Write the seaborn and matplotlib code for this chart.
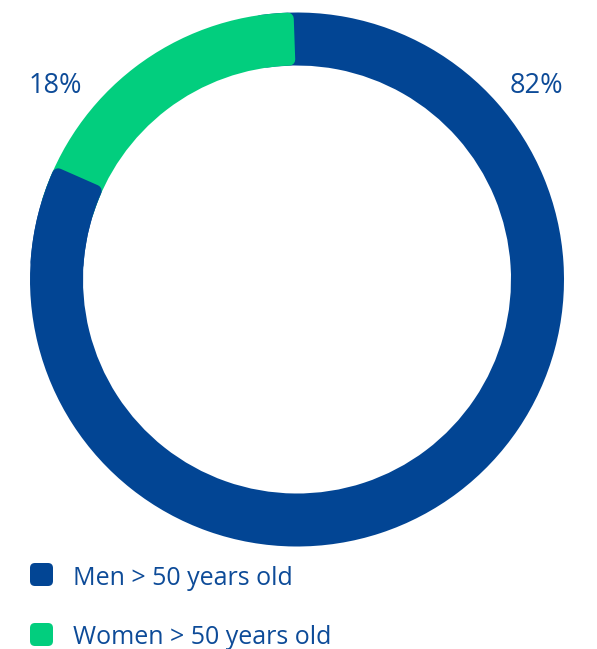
import matplotlib
matplotlib.use("Agg")
import matplotlib.pyplot as plt
from matplotlib.patches import Wedge, FancyBboxPatch
import numpy as np
import seaborn as sns

# Share of patients over 50 by sex
groups = ["Men > 50 years old", "Women > 50 years old"]
shares = [82, 18]
share_labels = ["82%", "18%"]
colors = ["#024594", "#02CE7E"]
text_color = "#0D4B98"

sns.set_theme(style="white")
plt.rcParams["font.family"] = ["Open Sans", "DejaVu Sans"]

W, H = 597, 649
fig = plt.figure(figsize=(W / 100, H / 100), dpi=100)
ax = fig.add_axes([0, 0, 1, 1])
ax.set_xlim(0, W)
ax.set_ylim(0, H)
ax.axis("off")

cx, cy = 297, H - 279.5
r_out, ring = 267, 53
corner = 6  # rounded-corner radius in px
lw_pt = 2 * corner * 72 / 100
r_mid = r_out - ring / 2
pad = np.degrees(corner / r_mid)

# clockwise from 12 o'clock: Men first, then Women
fracs = np.array(shares, dtype=float) / sum(shares)
men_span = fracs[0] * 360
men_start = 90 - men_span + 360          # ccw start angle of the men arc
women_t1, women_t2 = 90, 90 + fracs[1] * 360


def ring_piece(t1, t2, color, z):
    w = Wedge((cx, cy), r_out - corner, t1, t2, width=ring - 2 * corner,
              facecolor=color, edgecolor=color, linewidth=lw_pt,
              joinstyle="round", zorder=z)
    ax.add_patch(w)


m1 = men_start - 360 + pad  # visible end of men arc (lower left)
# men arc, tucked under the women arc at the top
ring_piece(m1, 450 + 8, colors[0], 1)
# women arc, tucked under the men arc at the lower left
ring_piece(women_t1 + pad + 0.6, women_t2 + 8, colors[1], 2)
# men arc start cap drawn over the women arc
ring_piece(m1, m1 + 20, colors[0], 3)

# percentage labels
ax.text(536, H - 93, share_labels[0], color=text_color, fontsize=19.5,
        ha="center", va="baseline")
ax.text(55, H - 93, share_labels[1], color=text_color, fontsize=19.5,
        ha="center", va="baseline")

# legend
legend_y = [574.5, 634.5]
text_base = [585, 644]
for name, col, yc, yb in zip(groups, colors, legend_y, text_base):
    box = FancyBboxPatch((30 + 5, H - yc - 11.5 + 5), 23 - 10, 23 - 10,
                         boxstyle="round,pad=5", facecolor=col,
                         edgecolor="none")
    ax.add_patch(box)
    ax.text(73, H - yb, name, color=text_color, fontsize=18,
            ha="left", va="baseline")

fig.savefig("out.png", dpi=100, facecolor="white")
